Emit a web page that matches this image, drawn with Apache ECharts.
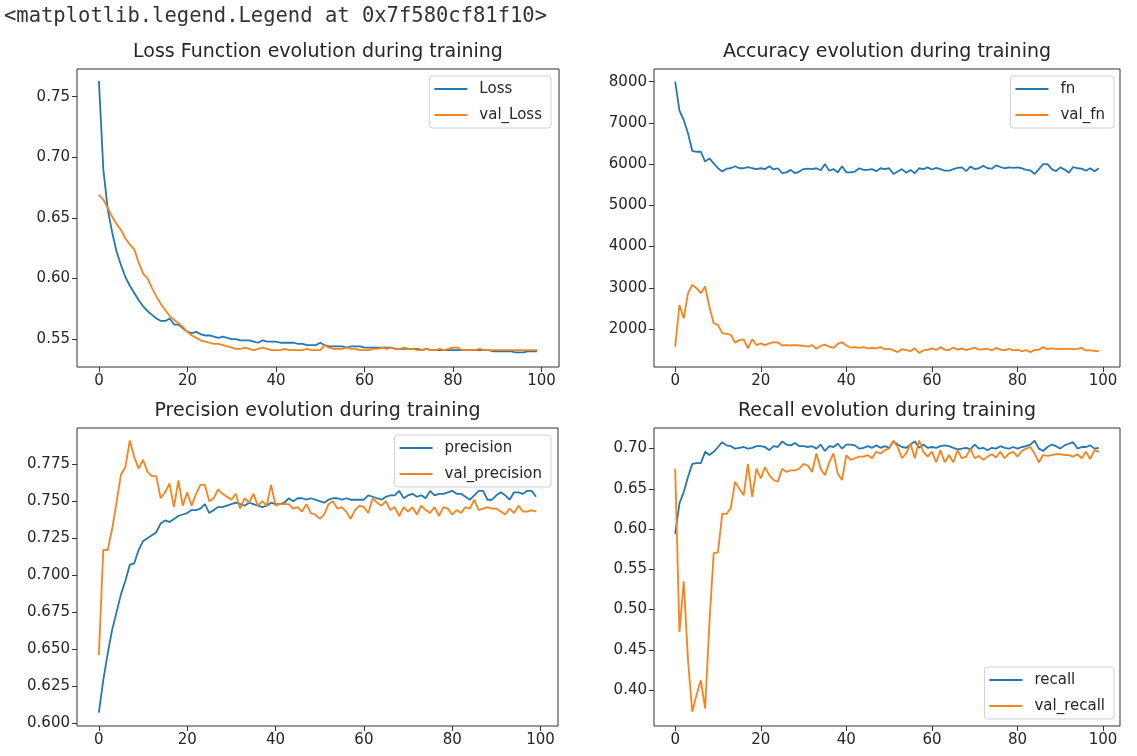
<!DOCTYPE html>
<html>
<head>
<meta charset="utf-8">
<script src="https://cdn.jsdelivr.net/npm/echarts@6/dist/echarts.min.js"></script>
<style>
html,body{margin:0;padding:0;background:#ffffff;}
#chart{width:1137px;height:756px;}
</style>
</head>
<body>
<div id="chart"></div>
<script>
// ---------------- data ----------------
const headerText = '<matplotlib.legend.Legend at 0x7f580cf81f10>';
const panelTitles = [
  'Loss Function evolution during training',
  'Accuracy evolution during training',
  'Precision evolution during training',
  'Recall evolution during training'
];
const xTicks = [0, 20, 40, 60, 80, 100];
const lossTicks = [0.55, 0.60, 0.65, 0.70, 0.75];
const fnTicks = [2000, 3000, 4000, 5000, 6000, 7000, 8000];
const precisionTicks = [0.600, 0.625, 0.650, 0.675, 0.700, 0.725, 0.750, 0.775];
const recallTicks = [0.40, 0.45, 0.50, 0.55, 0.60, 0.65, 0.70];

const loss = [0.763,0.690,0.657,0.638,0.622,0.611,0.601,0.594,0.588,0.582,
  0.577,0.573,0.570,0.567,0.565,0.565,0.567,0.562,0.562,0.559,
  0.556,0.555,0.556,0.554,0.553,0.553,0.552,0.551,0.552,0.551,
  0.550,0.550,0.549,0.549,0.549,0.548,0.547,0.549,0.548,0.548,
  0.548,0.547,0.547,0.547,0.547,0.546,0.546,0.545,0.545,0.545,
  0.547,0.545,0.544,0.544,0.544,0.544,0.543,0.544,0.544,0.544,
  0.543,0.543,0.543,0.543,0.543,0.543,0.543,0.542,0.542,0.542,
  0.542,0.542,0.542,0.541,0.542,0.541,0.541,0.541,0.541,0.541,
  0.541,0.541,0.541,0.541,0.541,0.541,0.541,0.541,0.541,0.540,
  0.540,0.540,0.540,0.540,0.539,0.539,0.539,0.540,0.540,0.540];
const valLoss = [0.669,0.665,0.658,0.651,0.645,0.640,0.633,0.628,0.624,0.613,
  0.604,0.600,0.592,0.585,0.579,0.574,0.569,0.566,0.563,0.560,
  0.556,0.553,0.551,0.549,0.548,0.547,0.546,0.546,0.545,0.544,
  0.543,0.542,0.542,0.543,0.542,0.541,0.542,0.543,0.542,0.541,
  0.541,0.541,0.542,0.541,0.541,0.541,0.541,0.542,0.541,0.541,
  0.541,0.545,0.543,0.542,0.542,0.542,0.543,0.542,0.542,0.541,
  0.541,0.541,0.542,0.542,0.543,0.542,0.543,0.542,0.542,0.543,
  0.542,0.542,0.541,0.541,0.542,0.541,0.541,0.542,0.541,0.542,
  0.543,0.543,0.541,0.541,0.541,0.541,0.542,0.541,0.541,0.541,
  0.541,0.541,0.541,0.541,0.541,0.541,0.541,0.541,0.541,0.541];

const fn = [8000,7300,7070,6750,6320,6300,6300,6060,6140,6020,
  5900,5820,5890,5900,5950,5900,5900,5930,5900,5880,
  5900,5880,5950,5870,5900,5780,5800,5860,5780,5820,
  5880,5890,5880,5900,5850,6000,5840,5880,5800,5950,
  5800,5800,5820,5900,5860,5860,5880,5830,5900,5880,
  5900,5760,5820,5880,5790,5860,5780,5900,5880,5920,
  5870,5910,5880,5840,5840,5880,5910,5920,5830,5940,
  5880,5900,5960,5900,5890,5970,5930,5900,5920,5910,
  5920,5900,5860,5850,5760,5880,6000,6000,5880,5830,
  5920,5870,5790,5930,5900,5890,5840,5900,5830,5900];
const valFn = [1570,2580,2260,2870,3070,2990,2870,3030,2540,2140,
  2100,1900,1880,1860,1670,1730,1750,1530,1750,1610,
  1650,1610,1650,1680,1670,1600,1610,1600,1610,1600,
  1590,1570,1610,1520,1590,1620,1570,1540,1640,1680,
  1600,1550,1560,1540,1560,1530,1540,1530,1560,1510,
  1520,1480,1440,1510,1490,1460,1530,1420,1480,1500,
  1530,1490,1560,1500,1490,1550,1500,1530,1490,1520,
  1550,1500,1510,1520,1480,1540,1500,1490,1520,1480,
  1500,1460,1490,1440,1490,1500,1560,1510,1530,1520,
  1510,1520,1520,1510,1520,1540,1480,1480,1470,1460];

const precision = [0.607,0.629,0.647,0.663,0.675,0.687,0.696,0.707,0.708,0.717,
  0.723,0.725,0.727,0.729,0.735,0.737,0.736,0.738,0.740,0.741,
  0.742,0.744,0.744,0.745,0.748,0.742,0.744,0.746,0.746,0.747,
  0.748,0.749,0.748,0.747,0.749,0.748,0.747,0.746,0.747,0.749,
  0.748,0.748,0.749,0.752,0.750,0.752,0.752,0.751,0.752,0.751,
  0.750,0.749,0.751,0.752,0.752,0.751,0.752,0.751,0.751,0.751,
  0.751,0.754,0.753,0.752,0.751,0.753,0.754,0.754,0.757,0.752,
  0.754,0.755,0.753,0.754,0.752,0.757,0.754,0.755,0.755,0.756,
  0.757,0.755,0.755,0.753,0.751,0.754,0.757,0.757,0.751,0.751,
  0.754,0.756,0.754,0.751,0.756,0.756,0.755,0.757,0.757,0.753];
const valPrecision = [0.646,0.717,0.717,0.731,0.749,0.768,0.773,0.791,0.780,0.772,
  0.778,0.770,0.767,0.767,0.752,0.756,0.762,0.746,0.764,0.747,
  0.756,0.747,0.755,0.761,0.761,0.750,0.752,0.758,0.755,0.753,
  0.751,0.755,0.745,0.752,0.749,0.755,0.747,0.750,0.747,0.761,
  0.747,0.748,0.748,0.748,0.745,0.746,0.743,0.748,0.742,0.741,
  0.738,0.741,0.748,0.750,0.745,0.746,0.743,0.738,0.744,0.747,
  0.746,0.742,0.752,0.749,0.747,0.750,0.744,0.746,0.740,0.746,
  0.743,0.746,0.741,0.747,0.744,0.742,0.746,0.740,0.746,0.745,
  0.741,0.744,0.742,0.746,0.745,0.751,0.744,0.745,0.746,0.745,
  0.745,0.743,0.741,0.745,0.742,0.747,0.743,0.743,0.744,0.743];

const recall = [0.594,0.632,0.646,0.665,0.681,0.682,0.682,0.696,0.692,0.696,
  0.702,0.708,0.704,0.703,0.700,0.701,0.702,0.700,0.701,0.703,
  0.703,0.702,0.698,0.703,0.702,0.709,0.705,0.704,0.707,0.703,
  0.703,0.702,0.703,0.700,0.705,0.697,0.703,0.702,0.706,0.700,
  0.705,0.705,0.704,0.700,0.701,0.703,0.701,0.704,0.701,0.703,
  0.701,0.709,0.705,0.702,0.701,0.705,0.709,0.701,0.705,0.701,
  0.702,0.701,0.703,0.704,0.703,0.701,0.699,0.700,0.701,0.699,
  0.705,0.700,0.701,0.698,0.701,0.700,0.703,0.701,0.700,0.702,
  0.700,0.702,0.703,0.705,0.710,0.700,0.697,0.702,0.705,0.703,
  0.700,0.704,0.706,0.708,0.700,0.702,0.702,0.704,0.700,0.701];
const valRecall = [0.675,0.472,0.535,0.437,0.373,0.394,0.412,0.377,0.483,0.570,
  0.571,0.619,0.619,0.626,0.659,0.650,0.642,0.681,0.640,0.675,
  0.663,0.677,0.667,0.661,0.659,0.675,0.671,0.673,0.673,0.675,
  0.681,0.679,0.671,0.694,0.675,0.667,0.683,0.694,0.669,0.661,
  0.692,0.686,0.688,0.690,0.690,0.692,0.688,0.696,0.694,0.698,
  0.700,0.710,0.702,0.688,0.694,0.706,0.688,0.710,0.696,0.690,
  0.696,0.683,0.698,0.683,0.692,0.683,0.698,0.688,0.690,0.700,
  0.688,0.691,0.686,0.690,0.693,0.689,0.696,0.688,0.694,0.696,
  0.690,0.697,0.700,0.702,0.694,0.683,0.692,0.691,0.692,0.693,
  0.693,0.692,0.692,0.690,0.693,0.688,0.696,0.687,0.698,0.696];

// ---------------- layout / style ----------------
const BLUE = '#2478b2', ORANGE = '#f8831a';
const FONT = 'DejaVu Sans';
const TEXT = '#262626';

const panels = [
  { rect: {left: 77, top: 69, width: 482, height: 298}, yMin: 0.527, yMax: 0.7728, yTicks: lossTicks, dec: 2,
    names: ['Loss', 'val_Loss'], data: [loss, valLoss], title: panelTitles[0],
    legend: {right: 1137 - 551, top: 76} },
  { rect: {left: 654, top: 69, width: 466, height: 298}, yMin: 1078, yMax: 8308, yTicks: fnTicks, dec: 0,
    names: ['fn', 'val_fn'], data: [fn, valFn], title: panelTitles[1],
    legend: {right: 1137 - 1114, top: 76} },
  { rect: {left: 77, top: 428, width: 481, height: 298}, yMin: 0.598, yMax: 0.7995, yTicks: precisionTicks, dec: 3,
    names: ['precision', 'val_precision'], data: [precision, valPrecision], title: panelTitles[2],
    legend: {right: 1137 - 551, top: 435} },
  { rect: {left: 654, top: 428, width: 466, height: 298}, yMin: 0.3553, yMax: 0.7256, yTicks: recallTicks, dec: 2,
    names: ['recall', 'val_recall'], data: [recall, valRecall], title: panelTitles[3],
    legend: {right: 1137 - 1114, bottom: 756 - 719} }
];

const option = {
  animation: false,
  backgroundColor: '#ffffff',
  grid: [], xAxis: [], yAxis: [], series: [], legend: [],
  graphic: []
};

option.graphic.push({
  type: 'text', x: 4, y: 17,
  style: { text: headerText, font: '20.5px "DejaVu Sans Mono"', fill: '#333333', verticalAlign: 'middle', align: 'left' }
});

panels.forEach((p, i) => {
  option.grid.push(Object.assign({ show: true, borderColor: '#333333', borderWidth: 1, backgroundColor: 'transparent', containLabel: false }, p.rect));
  option.graphic.push({
    type: 'text', x: p.rect.left + p.rect.width / 2, y: p.rect.top - 17,
    style: { text: p.title, font: '19px "DejaVu Sans"', fill: TEXT, align: 'center', verticalAlign: 'middle' }
  });
  option.xAxis.push({
    type: 'value', gridIndex: i, min: -4.95, max: 103.95,
    axisLine: { show: false, onZero: false },
    splitLine: { show: false },
    axisTick: { show: true, inside: false, length: 5, customValues: xTicks, lineStyle: { color: '#333333', width: 1 } },
    axisLabel: { show: true, customValues: xTicks, margin: 7, color: TEXT, fontFamily: FONT, fontSize: 15 }
  });
  option.yAxis.push({
    type: 'value', gridIndex: i, min: p.yMin, max: p.yMax,
    axisLine: { show: false, onZero: false },
    splitLine: { show: false },
    axisTick: { show: true, inside: false, length: 5, customValues: p.yTicks, lineStyle: { color: '#333333', width: 1 } },
    axisLabel: { show: true, customValues: p.yTicks, margin: 7, color: TEXT, fontFamily: FONT, fontSize: 15,
      formatter: (v) => Number(v).toFixed(p.dec) }
  });
  const colors = [BLUE, ORANGE];
  p.names.forEach((nm, k) => {
    option.series.push({
      type: 'line', name: nm, xAxisIndex: i, yAxisIndex: i,
      data: p.data[k].map((v, idx) => [idx, v]),
      showSymbol: false, symbol: 'none', smooth: false,
      lineStyle: { color: colors[k], width: 1.8 },
      itemStyle: { color: colors[k] },
      z: 2 + k
    });
  });
  option.legend.push(Object.assign({
    data: p.names, orient: 'vertical', icon: 'rect', itemWidth: 33, itemHeight: 2,
    itemGap: 8, padding: [4, 9, 4, 5],
    backgroundColor: 'rgba(255,255,255,0.85)', borderColor: '#d0d0d0', borderWidth: 1, borderRadius: 3,
    selectedMode: false,
    textStyle: { color: TEXT, fontFamily: FONT, fontSize: 15, lineHeight: 18, padding: [0, 0, 0, 7] }
  }, p.legend));
});

const chart = echarts.init(document.getElementById('chart'), null, { renderer: 'canvas' });
chart.setOption(option);
</script>
</body>
</html>
